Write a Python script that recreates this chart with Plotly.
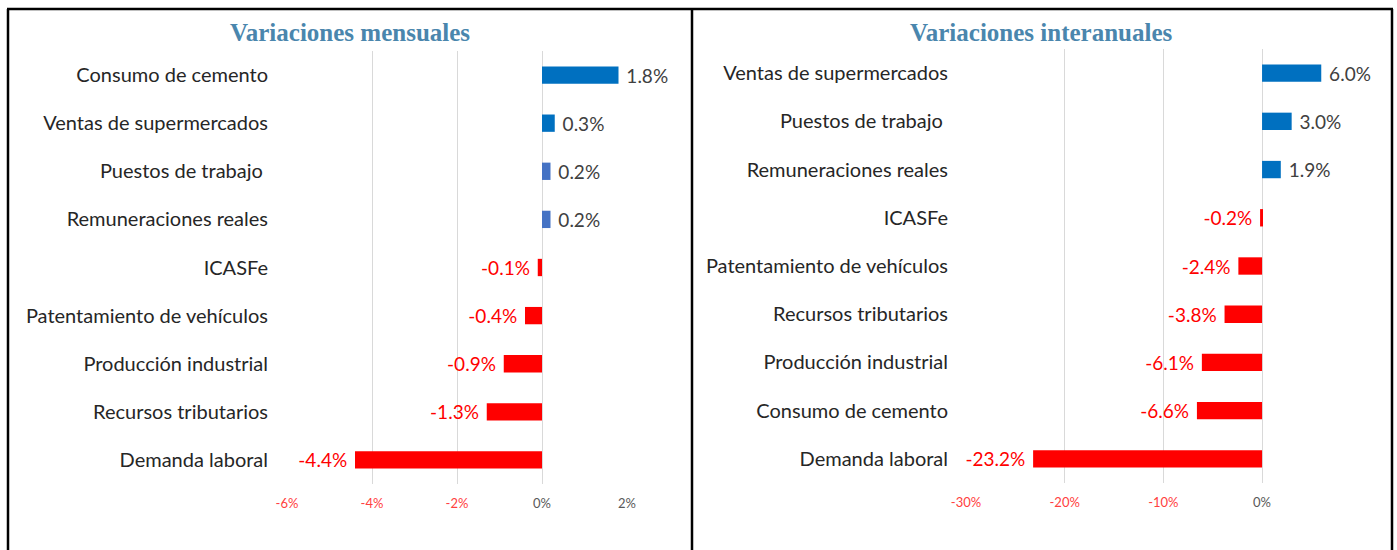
import plotly.graph_objects as go

# Data
cats_m = ["Consumo de cemento", "Ventas de supermercados", "Puestos de trabajo\u00a0",
          "Remuneraciones reales", "ICASFe", "Patentamiento de vehículos",
          "Producción industrial", "Recursos tributarios", "Demanda laboral"]
vals_m = [1.8, 0.3, 0.2, 0.2, -0.1, -0.4, -0.9, -1.3, -4.4]
cols_m = ["#0070C0", "#0070C0", "#4472C4", "#4472C4", "#FF0000", "#FF0000", "#FF0000", "#FF0000", "#FF0000"]

cats_i = ["Ventas de supermercados", "Puestos de trabajo\u00a0", "Remuneraciones reales",
          "ICASFe", "Patentamiento de vehículos", "Recursos tributarios",
          "Producción industrial", "Consumo de cemento", "Demanda laboral"]
vals_i = [6.0, 3.0, 1.9, -0.2, -2.4, -3.8, -6.1, -6.6, -23.2]

ticks_m = [-6, -4, -2, 0, 2]
ticks_i = [-30, -20, -10, 0]

W, H = 1397, 550
BLUE = "#0070C0"
RED = "#FF0000"
GRAY = "#595959"
LBL = "#404040"
FONT = "Lato, Open Sans, sans-serif"

def px_x(v):
    return v / W

def px_y(v):
    return 1 - v / H

def lab(v):
    return f"\u00a0{v:.1f}%" if v > 0 else f"{v:.1f}%\u00a0"

fig = go.Figure()

fig.add_trace(go.Bar(
    y=cats_m, x=vals_m, orientation="h", xaxis="x", yaxis="y",
    marker=dict(color=cols_m, line=dict(width=0)),
    width=0.36,
    text=[lab(v) for v in vals_m], textposition="outside", constraintext="none",
    textfont=dict(family=FONT, size=19, color=[LBL if v > 0 else RED for v in vals_m]),
    cliponaxis=False, showlegend=False, hoverinfo="skip",
))
fig.add_trace(go.Bar(
    y=cats_i, x=vals_i, orientation="h", xaxis="x2", yaxis="y2",
    marker=dict(color=[BLUE if v > 0 else RED for v in vals_i], line=dict(width=0)),
    width=0.36,
    text=[lab(v) for v in vals_i], textposition="outside", constraintext="none",
    textfont=dict(family=FONT, size=19, color=[LBL if v > 0 else RED for v in vals_i]),
    cliponaxis=False, showlegend=False, hoverinfo="skip",
))

def tick_text(ticks):
    out = []
    for t in ticks:
        c = "#FF4040" if t < 0 else GRAY
        out.append(f"<span style='color:{c}'>{t}%</span>")
    return out

axfont = dict(family=FONT, size=20, color="#262626")

fig.update_layout(
    template="none",
    width=W, height=H, autosize=False,
    margin=dict(l=0, r=0, t=0, b=0, pad=0, autoexpand=False),
    paper_bgcolor="white", plot_bgcolor="white",
    font=dict(family=FONT),
    xaxis=dict(domain=[px_x(287), px_x(627)], range=[-6, 2], tickvals=ticks_m,
               ticktext=tick_text(ticks_m), showgrid=True, gridcolor="#D9D9D9",
               gridwidth=1, zeroline=False, showline=False, ticks="", automargin=False,
               tickfont=dict(size=13, color=GRAY), anchor="y", ticklabelstandoff=10),
    yaxis=dict(domain=[px_y(484), px_y(51)], autorange="reversed", type="category",
               showgrid=False, zeroline=False, showline=False, ticks="", automargin=False,
               tickfont=axfont, anchor="x", ticklabelstandoff=18),
    xaxis2=dict(domain=[px_x(966), px_x(1341)], range=[-30, 8], tickvals=ticks_i,
                ticktext=tick_text(ticks_i), showgrid=True, gridcolor="#D9D9D9",
                gridwidth=1, zeroline=False, showline=False, ticks="", automargin=False,
                tickfont=dict(size=13, color=GRAY), anchor="y2", ticklabelstandoff=10),
    yaxis2=dict(domain=[px_y(483), px_y(49)], autorange="reversed", type="category",
                showgrid=False, zeroline=False, showline=False, ticks="", automargin=False,
                tickfont=axfont, anchor="x2", ticklabelstandoff=17),
)

title_font = dict(family="Liberation Serif, DejaVu Serif, serif", size=25, color="#4A86AD")
fig.add_annotation(text="<b>Variaciones mensuales</b>", x=px_x(350), y=px_y(32),
                   xref="paper", yref="paper", showarrow=False, font=title_font,
                   xanchor="center", yanchor="middle")
fig.add_annotation(text="<b>Variaciones interanuales</b>", x=px_x(1041), y=px_y(32),
                   xref="paper", yref="paper", showarrow=False, font=title_font,
                   xanchor="center", yanchor="middle")

# Panel frame
line = dict(color="black", width=2.5)
fig.add_shape(type="line", xref="paper", yref="paper", x0=px_x(7), x1=px_x(1393),
              y0=px_y(9), y1=px_y(9), line=line)
for xv in [8, 692, 1392]:
    fig.add_shape(type="line", xref="paper", yref="paper", x0=px_x(xv), x1=px_x(xv),
                  y0=px_y(9), y1=px_y(552), line=line)

post = (
    "document.body.style.margin='0';document.body.style.overflow='hidden';"
    "var gd=document.getElementById('{plot_id}');"
    "gd.style.position='fixed';gd.style.left='0px';gd.style.top='0px';"
)
fig.write_html("out.html", config={"displayModeBar": False, "responsive": False},
               post_script=post)
